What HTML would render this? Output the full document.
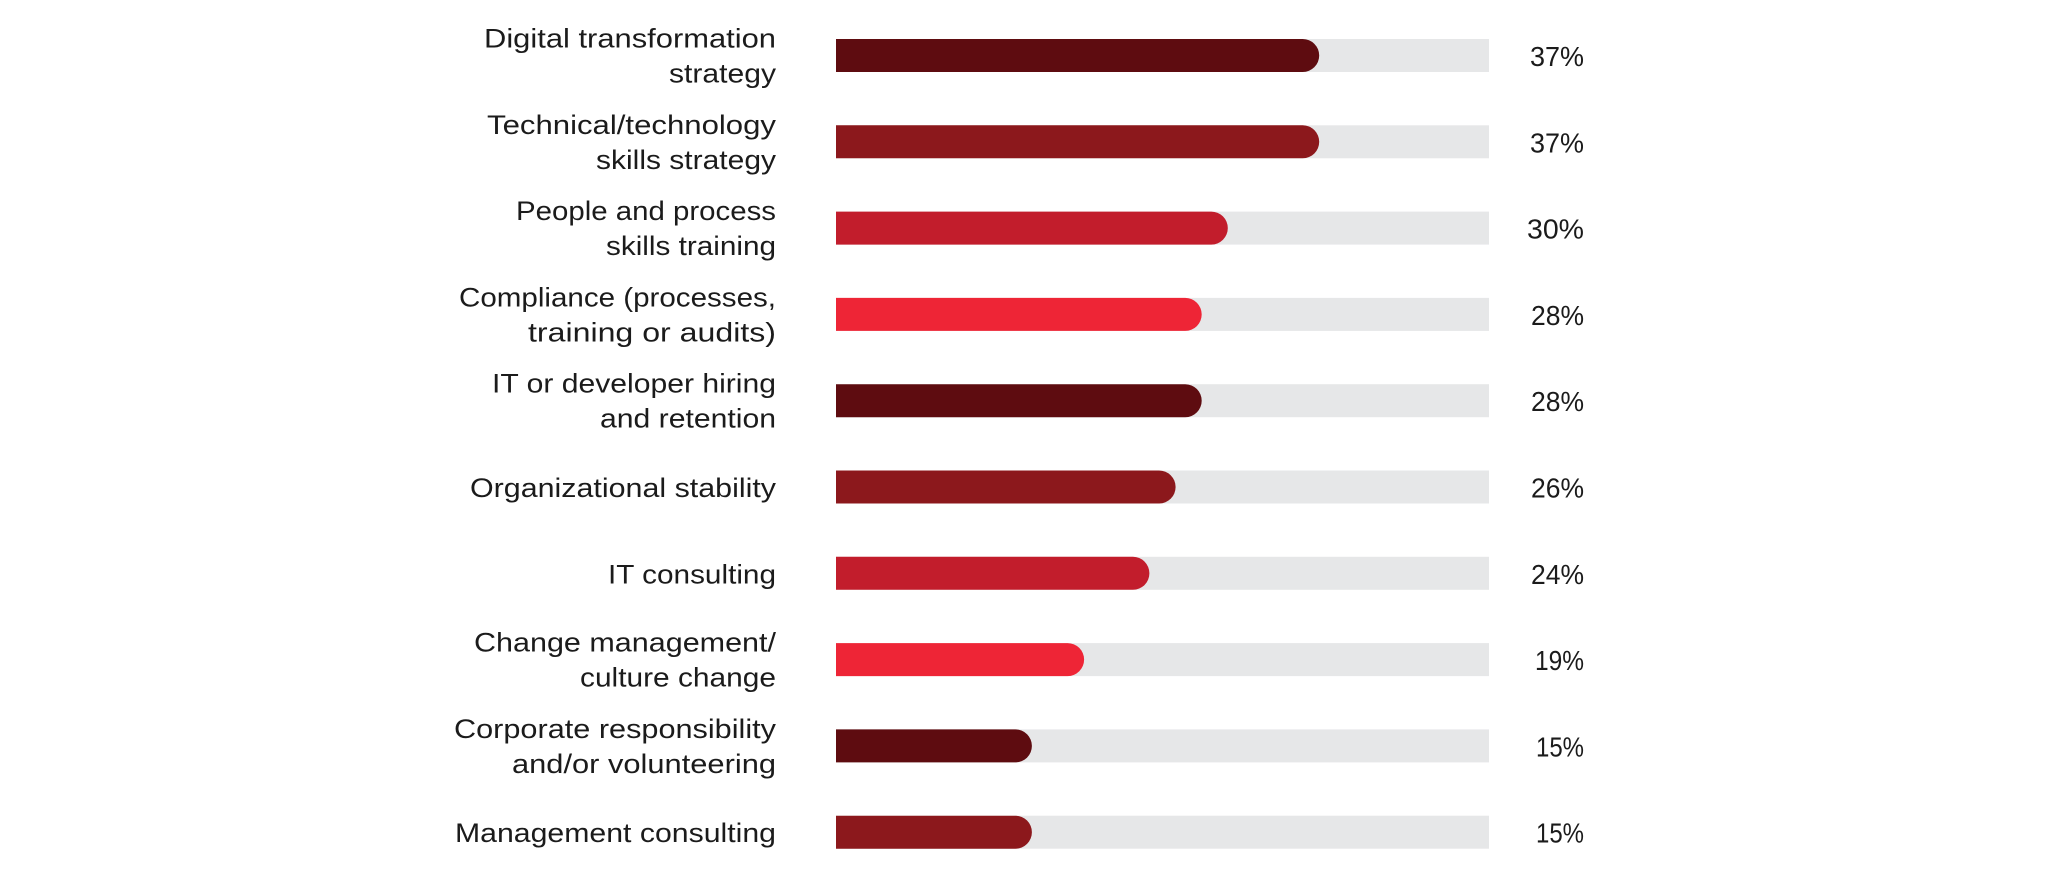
<!DOCTYPE html>
<html>
<head>
<meta charset="utf-8">
<style>
  html, body { margin: 0; padding: 0; background: #ffffff; }
  body { width: 2048px; height: 888px; overflow: hidden; }
  svg { display: block; }
  .lbl { font-family: "Liberation Sans", Arial, sans-serif; font-size: 27px; fill: #1b1b1b; }
  .pct { font-family: "Liberation Sans", Arial, sans-serif; font-size: 28px; fill: #1b1b1b; }
</style>
</head>
<body>
<svg width="2048" height="888" viewBox="0 0 2048 888" xmlns="http://www.w3.org/2000/svg">
  <rect x="0" y="0" width="2048" height="888" fill="#ffffff"/>

  <!-- Tracks -->
  <g fill="#e6e7e8">
    <rect x="836" y="39" width="653" height="33"/>
    <rect x="836" y="125.3" width="653" height="33"/>
    <rect x="836" y="211.6" width="653" height="33"/>
    <rect x="836" y="297.9" width="653" height="33"/>
    <rect x="836" y="384.2" width="653" height="33"/>
    <rect x="836" y="470.5" width="653" height="33"/>
    <rect x="836" y="556.8" width="653" height="33"/>
    <rect x="836" y="643.1" width="653" height="33"/>
    <rect x="836" y="729.4" width="653" height="33"/>
    <rect x="836" y="815.7" width="653" height="33"/>
  </g>

  <!-- Bars -->
  <path fill="#5e0c10" d="M836,39 H1302.7 A16.5,16.5 0 0 1 1302.7,72 H836 Z"/>
  <path fill="#8c181c" d="M836,125.3 H1302.7 A16.5,16.5 0 0 1 1302.7,158.3 H836 Z"/>
  <path fill="#c21d2c" d="M836,211.6 H1211.3 A16.5,16.5 0 0 1 1211.3,244.6 H836 Z"/>
  <path fill="#ee2536" d="M836,297.9 H1185.2 A16.5,16.5 0 0 1 1185.2,330.9 H836 Z"/>
  <path fill="#5e0c10" d="M836,384.2 H1185.2 A16.5,16.5 0 0 1 1185.2,417.2 H836 Z"/>
  <path fill="#8c181c" d="M836,470.5 H1159.1 A16.5,16.5 0 0 1 1159.1,503.5 H836 Z"/>
  <path fill="#c21d2c" d="M836,556.8 H1132.9 A16.5,16.5 0 0 1 1132.9,589.8 H836 Z"/>
  <path fill="#ee2536" d="M836,643.1 H1067.6 A16.5,16.5 0 0 1 1067.6,676.1 H836 Z"/>
  <path fill="#5e0c10" d="M836,729.4 H1015.4 A16.5,16.5 0 0 1 1015.4,762.4 H836 Z"/>
  <path fill="#8c181c" d="M836,815.7 H1015.4 A16.5,16.5 0 0 1 1015.4,848.7 H836 Z"/>

  <!-- Category labels -->
  <g class="lbl" text-anchor="end">
    <text x="776" y="47.5" textLength="292" lengthAdjust="spacingAndGlyphs">Digital transformation</text>
    <text x="776" y="82.5" textLength="107" lengthAdjust="spacingAndGlyphs">strategy</text>

    <text x="776" y="133.8" textLength="289" lengthAdjust="spacingAndGlyphs">Technical/technology</text>
    <text x="776" y="168.8" textLength="180" lengthAdjust="spacingAndGlyphs">skills strategy</text>

    <text x="776" y="220.1" textLength="260" lengthAdjust="spacingAndGlyphs">People and process</text>
    <text x="776" y="255.1" textLength="170" lengthAdjust="spacingAndGlyphs">skills training</text>

    <text x="776" y="306.4" textLength="317" lengthAdjust="spacingAndGlyphs">Compliance (processes,</text>
    <text x="776" y="341.4" textLength="248" lengthAdjust="spacingAndGlyphs">training or audits)</text>

    <text x="776" y="392.7" textLength="284" lengthAdjust="spacingAndGlyphs">IT or developer hiring</text>
    <text x="776" y="427.7" textLength="176" lengthAdjust="spacingAndGlyphs">and retention</text>

    <text x="776" y="497" textLength="306" lengthAdjust="spacingAndGlyphs">Organizational stability</text>

    <text x="776" y="583.3" textLength="168" lengthAdjust="spacingAndGlyphs">IT consulting</text>

    <text x="776" y="651.6" textLength="302" lengthAdjust="spacingAndGlyphs">Change management/</text>
    <text x="776" y="686.6" textLength="196" lengthAdjust="spacingAndGlyphs">culture change</text>

    <text x="776" y="737.9" textLength="322" lengthAdjust="spacingAndGlyphs">Corporate responsibility</text>
    <text x="776" y="772.9" textLength="264" lengthAdjust="spacingAndGlyphs">and/or volunteering</text>

    <text x="776" y="842.2" textLength="321" lengthAdjust="spacingAndGlyphs">Management consulting</text>
  </g>

  <!-- Percent labels -->
  <g class="pct" text-anchor="end">
    <text x="1584" y="66" textLength="54" lengthAdjust="spacingAndGlyphs">37%</text>
    <text x="1584" y="152.3" textLength="54" lengthAdjust="spacingAndGlyphs">37%</text>
    <text x="1584" y="238.6" textLength="57" lengthAdjust="spacingAndGlyphs">30%</text>
    <text x="1584" y="324.9" textLength="53" lengthAdjust="spacingAndGlyphs">28%</text>
    <text x="1584" y="411.2" textLength="53" lengthAdjust="spacingAndGlyphs">28%</text>
    <text x="1584" y="497.5" textLength="53" lengthAdjust="spacingAndGlyphs">26%</text>
    <text x="1584" y="583.8" textLength="53" lengthAdjust="spacingAndGlyphs">24%</text>
    <text x="1584" y="670.1" textLength="49" lengthAdjust="spacingAndGlyphs">19%</text>
    <text x="1584" y="756.4" textLength="48" lengthAdjust="spacingAndGlyphs">15%</text>
    <text x="1584" y="842.7" textLength="48" lengthAdjust="spacingAndGlyphs">15%</text>
  </g>
</svg>
</body>
</html>
